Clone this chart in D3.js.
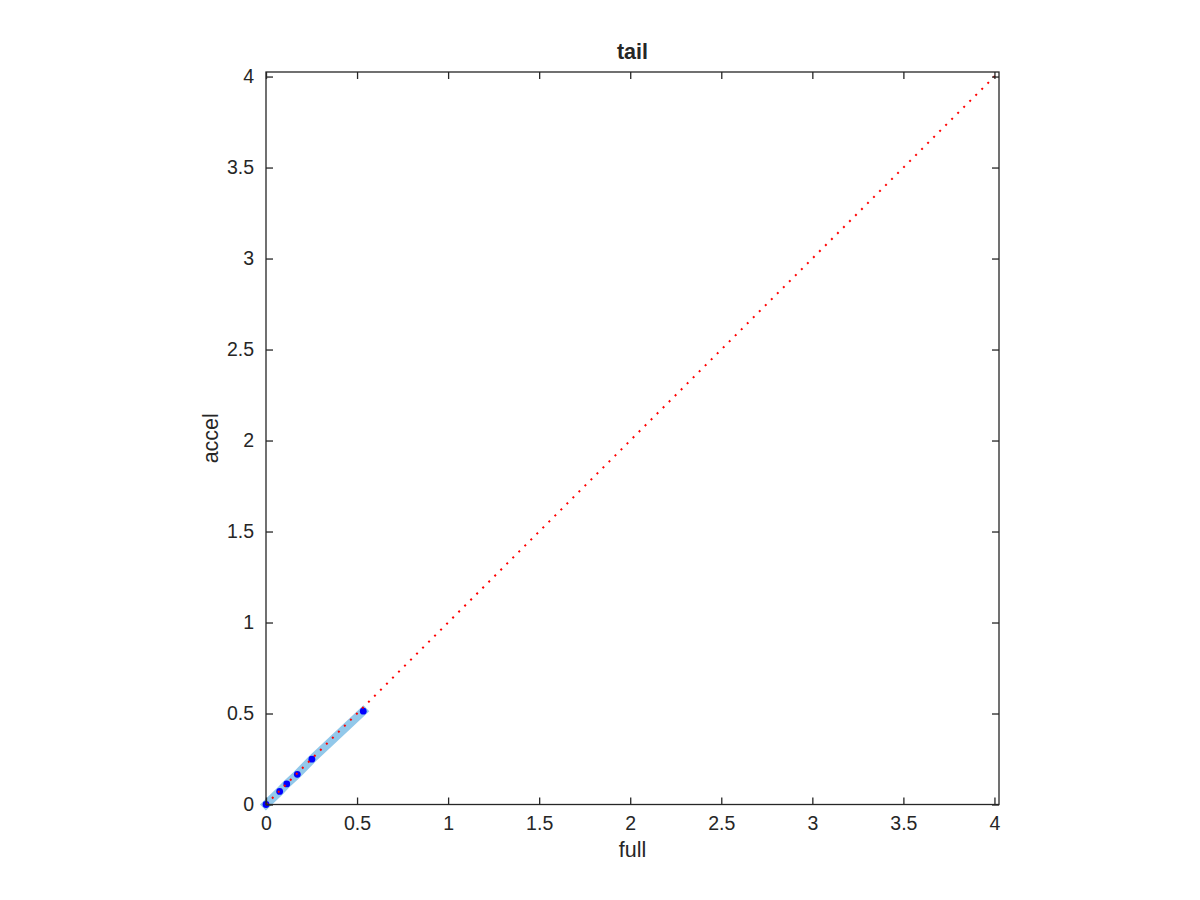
<!DOCTYPE html>
<html>
<head>
<meta charset="utf-8">
<script src="https://cdn.jsdelivr.net/npm/d3@7"></script>
<style>
  body { margin: 0; background: #fff; }
  text { font-family: "Liberation Sans", Helvetica, Arial, sans-serif; fill: #262626; }
</style>
</head>
<body>
<svg id="chart" width="1200" height="900"></svg>
<script>
// values
const fullVals  = [0, 0.075, 0.114, 0.172, 0.252, 0.534]
const accelVals = [0, 0.072, 0.113, 0.166, 0.249, 0.513]
const xTicks = [0, 0.5, 1, 1.5, 2, 2.5, 3, 3.5, 4]
const yTicks = [0, 0.5, 1, 1.5, 2, 2.5, 3, 3.5, 4]
const axMax = 4.025

const margin = {left: 266, top: 72, right: 201, bottom: 95.5}
const svg = d3.select('#chart')
const innerWidth = 1200 - margin.left - margin.right
const innerHeight = 900 - margin.top - margin.bottom

const xScale = d3.scaleLinear().domain([0, axMax]).range([0, innerWidth])
const yScale = d3.scaleLinear().domain([0, axMax]).range([innerHeight, 0])

const g = svg.append('g').attr('transform', `translate(${margin.left},${margin.top})`)

const pts = fullVals.map((v, i) => [v, accelVals[i]])
const line = d3.line().x(d => xScale(d[0])).y(d => yScale(d[1]))

// thick light blue trace
g.append('path')
  .datum(pts)
  .attr('d', line)
  .attr('fill', 'none')
  .attr('stroke', '#92c8ea')
  .attr('stroke-width', 8.5)
  .attr('stroke-linecap', 'square')

// blue point markers
g.selectAll('circle.pt')
  .data(pts)
  .join('circle')
  .attr('class', 'pt')
  .attr('cx', d => xScale(d[0]))
  .attr('cy', d => yScale(d[1]))
  .attr('r', 3.4)
  .attr('fill', '#0000ff')

// red dotted identity line
g.append('path')
  .datum([[0, 0], [axMax, axMax]])
  .attr('d', line)
  .attr('fill', 'none')
  .attr('stroke', '#ff0000')
  .attr('stroke-width', 2)
  .attr('stroke-dasharray', '2,6.5')

// axes (MATLAB style: inward ticks, mirrored)
const axisColor = '#262626'
const xAxis = d3.axisBottom(xScale).tickValues(xTicks).tickSize(-7).tickPadding(12).tickFormat(d3.format('~g'))
const yAxis = d3.axisLeft(yScale).tickValues(yTicks).tickSize(-7).tickPadding(12).tickFormat(d3.format('~g'))
const xAxisTop = d3.axisTop(xScale).tickValues(xTicks).tickSize(-7)
const yAxisRight = d3.axisRight(yScale).tickValues(yTicks).tickSize(-7)

const styleAxis = sel => {
  sel.selectAll('line').attr('stroke', axisColor).attr('stroke-width', 1.3)
  sel.select('.domain').remove()
  sel.selectAll('text').style('font-size', '19.5px').attr('fill', axisColor)
}
const bareAxis = sel => {
  styleAxis(sel)
  sel.selectAll('text').remove()
}

g.append('g').attr('transform', `translate(0,${innerHeight})`).call(xAxis).call(styleAxis)
g.append('g').call(yAxis).call(styleAxis)
g.append('g').call(xAxisTop).call(bareAxis)
g.append('g').attr('transform', `translate(${innerWidth},0)`).call(yAxisRight).call(bareAxis)

g.append('rect')
  .attr('width', innerWidth)
  .attr('height', innerHeight)
  .attr('fill', 'none')
  .attr('stroke', axisColor)
  .attr('stroke-width', 1.3)

// labels
g.append('text')
  .attr('x', innerWidth / 2).attr('y', -13)
  .attr('text-anchor', 'middle')
  .style('font-size', '21.5px').style('font-weight', 'bold')
  .attr('fill', '#000')
  .text('tail')

g.append('text')
  .attr('x', innerWidth / 2).attr('y', innerHeight + 52.5)
  .attr('text-anchor', 'middle')
  .style('font-size', '21.5px')
  .text('full')

g.append('text')
  .attr('transform', `translate(-48,${innerHeight / 2}) rotate(-90)`)
  .attr('text-anchor', 'middle')
  .style('font-size', '21.5px')
  .text('accel')
</script>
</body>
</html>
